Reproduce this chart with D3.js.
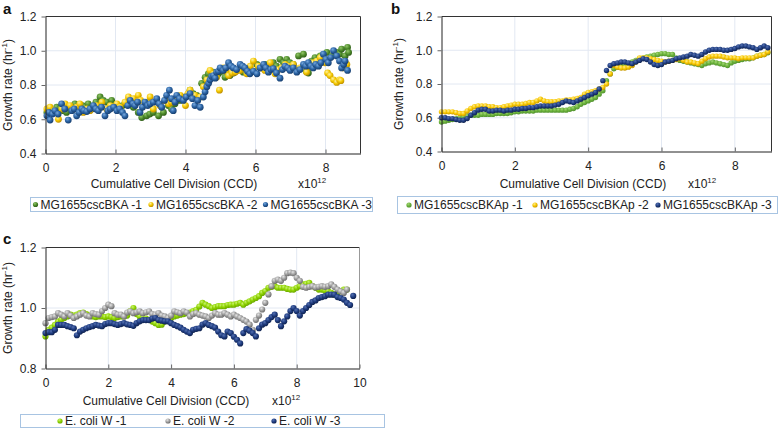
<!DOCTYPE html>
<html>
<head>
<meta charset="utf-8">
<script src="https://cdn.jsdelivr.net/npm/d3@7"></script>
<style>
  body { margin: 0; background: #fff; }
  svg { display: block; font-family: "Liberation Sans", Arial, sans-serif; }
</style>
</head>
<body>
<svg id="chart" width="780" height="428"></svg>
<script>
// ---- panel a : MG1655cscBKA ----
var ccdA1 = [0.04,0.13,0.23,0.32,0.42,0.51,0.60,0.72,0.84,0.99,1.06,1.13,1.22,1.32,1.44,1.56,1.65,1.75,1.89,1.98,
  2.08,2.20,2.32,2.42,2.51,2.65,2.75,2.89,2.98,3.08,3.23,3.37,3.51,3.60,3.70,3.84,3.99,4.13,4.22,4.32,
  4.46,4.56,4.65,4.72,4.80,4.94,5.04,5.13,5.27,5.37,5.46,5.56,5.65,5.75,5.84,5.94,6.04,6.15,6.27,6.39,
  6.51,6.60,6.70,6.80,6.89,6.98,7.08,7.23,7.37,7.45,7.51,7.60,7.70,7.85,7.95,8.04,8.18,8.32,8.40,8.46,
  8.56,8.63,8.66];
var rateA1 = [0.64,0.66,0.65,0.67,0.66,0.65,0.64,0.67,0.69,0.67,0.68,0.67,0.69,0.66,0.70,0.73,0.71,0.70,0.71,0.68,
  0.66,0.68,0.70,0.69,0.67,0.64,0.61,0.62,0.63,0.64,0.62,0.64,0.68,0.66,0.69,0.71,0.73,0.77,0.75,0.74,
  0.81,0.845,0.865,0.85,0.875,0.865,0.88,0.845,0.855,0.87,0.885,0.89,0.875,0.89,0.90,0.88,0.92,0.90,0.92,0.91,
  0.93,0.91,0.95,0.93,0.95,0.93,0.92,0.97,0.98,0.88,0.87,0.94,0.96,0.97,0.95,0.99,0.97,0.99,0.98,1.01,
  0.97,1.02,0.99];

var ccdA2 = [0.04,0.13,0.25,0.37,0.47,0.56,0.70,0.80,0.89,0.98,1.08,1.18,1.27,1.36,1.46,1.61,1.75,1.85,1.94,2.04,
  2.13,2.27,2.37,2.45,2.51,2.65,2.72,2.80,2.90,2.99,3.08,3.18,3.27,3.42,3.52,3.60,3.75,3.85,4.00,4.07,
  4.13,4.27,4.42,4.51,4.61,4.70,4.80,4.89,4.97,5.08,5.16,5.23,5.33,5.42,5.56,5.66,5.75,5.85,5.94,6.08,
  6.18,6.27,6.42,6.56,6.65,6.75,6.85,6.94,7.08,7.18,7.27,7.46,7.55,7.65,7.75,7.85,7.99,8.06,8.13,8.23,
  8.32,8.40,8.44,8.51,8.61];
var rateA2 = [0.66,0.67,0.65,0.60,0.66,0.69,0.68,0.66,0.67,0.69,0.64,0.66,0.65,0.67,0.68,0.70,0.66,0.68,0.67,0.69,
  0.67,0.70,0.73,0.71,0.72,0.74,0.71,0.69,0.70,0.73,0.66,0.70,0.68,0.71,0.69,0.70,0.72,0.74,0.68,0.75,
  0.77,0.74,0.73,0.79,0.83,0.885,0.865,0.845,0.77,0.90,0.88,0.855,0.87,0.875,0.885,0.90,0.865,0.91,0.94,0.91,
  0.90,0.885,0.93,0.865,0.89,0.90,0.92,0.91,0.92,0.89,0.90,0.875,0.91,0.93,0.94,0.96,0.93,0.87,0.855,0.83,
  0.815,0.83,0.825,0.90,0.92];

var ccdA3 = [0.04,0.10,0.13,0.20,0.27,0.36,0.46,0.55,0.65,0.75,0.82,0.89,0.96,1.04,1.10,1.18,1.27,1.37,1.44,1.51,
  1.60,1.70,1.78,1.85,1.95,2.04,2.12,2.20,2.27,2.35,2.42,2.50,2.56,2.63,2.70,2.77,2.84,2.92,2.99,3.08,
  3.18,3.25,3.32,3.40,3.46,3.54,3.60,3.65,3.70,3.75,3.83,3.94,4.02,4.13,4.20,4.27,4.35,4.42,4.51,4.56,
  4.61,4.66,4.70,4.75,4.80,4.85,4.89,4.94,4.99,5.08,5.15,5.23,5.30,5.37,5.46,5.56,5.63,5.70,5.77,5.84,
  5.94,6.04,6.13,6.23,6.30,6.37,6.44,6.51,6.60,6.70,6.77,6.84,6.92,6.99,7.08,7.18,7.27,7.37,7.44,7.51,
  7.58,7.65,7.72,7.80,7.87,7.94,8.01,8.08,8.15,8.23,8.32,8.40,8.46,8.52,8.56,8.63];
var rateA3 = [0.62,0.64,0.595,0.63,0.65,0.63,0.69,0.66,0.595,0.65,0.66,0.62,0.64,0.66,0.65,0.645,0.66,0.68,0.66,0.65,
  0.67,0.62,0.65,0.66,0.67,0.65,0.66,0.64,0.62,0.68,0.71,0.69,0.68,0.70,0.64,0.67,0.70,0.68,0.69,0.70,
  0.72,0.69,0.67,0.71,0.74,0.77,0.72,0.65,0.70,0.74,0.72,0.71,0.73,0.75,0.72,0.68,0.71,0.67,0.73,0.76,
  0.79,0.81,0.83,0.85,0.855,0.84,0.875,0.88,0.90,0.885,0.90,0.93,0.91,0.90,0.89,0.92,0.91,0.90,0.88,0.865,
  0.88,0.865,0.90,0.92,0.90,0.875,0.89,0.895,0.87,0.84,0.89,0.91,0.90,0.885,0.90,0.875,0.89,0.92,0.91,0.93,
  0.91,0.90,0.92,0.91,0.93,0.98,0.95,0.93,0.96,1.00,0.97,0.94,0.90,0.92,0.94,0.885];

// ---- panel b : MG1655cscBKAp ----
var ccdB = [0.0,0.1,0.2,0.3,0.4,0.5,0.6,0.7,0.8,0.9,1.0,1.1,1.2,1.3,1.4,1.5,1.6,1.7,1.8,1.9,
  2.0,2.1,2.2,2.3,2.4,2.5,2.6,2.7,2.8,2.9,3.0,3.1,3.2,3.3,3.4,3.5,3.6,3.7,3.8,3.9,
  4.0,4.1,4.2,4.3,4.4,4.5,4.6,4.7,4.8,4.9,5.0,5.1,5.2,5.3,5.4,5.5,5.6,5.7,5.8,5.9,
  6.0,6.1,6.2,6.3,6.4,6.5,6.6,6.7,6.8,6.9,7.0,7.1,7.2,7.3,7.4,7.5,7.6,7.7,7.8,7.9,
  8.0,8.1,8.2,8.3,8.4,8.5,8.6,8.7,8.8,8.9];
var rateB1 = [0.575,0.58,0.585,0.59,0.595,0.60,0.605,0.61,0.615,0.615,0.615,0.62,0.62,0.62,0.62,0.625,0.625,0.625,0.625,0.63,
  0.635,0.635,0.64,0.64,0.64,0.64,0.645,0.645,0.645,0.645,0.645,0.645,0.645,0.645,0.645,0.65,0.655,0.665,0.68,0.69,
  0.70,0.71,0.72,0.74,0.76,0.82,0.86,0.89,0.90,0.905,0.91,0.92,0.93,0.94,0.95,0.955,0.96,0.965,0.97,0.975,
  0.98,0.98,0.975,0.975,0.955,0.94,0.935,0.93,0.925,0.92,0.915,0.91,0.92,0.925,0.93,0.925,0.92,0.915,0.91,0.925,
  0.935,0.94,0.945,0.95,0.95,0.955,0.965,0.97,0.975,0.985];
var rateB2 = [0.635,0.635,0.635,0.635,0.63,0.625,0.625,0.64,0.655,0.665,0.67,0.67,0.67,0.665,0.665,0.66,0.66,0.665,0.67,0.675,
  0.68,0.68,0.68,0.685,0.69,0.69,0.70,0.71,0.70,0.695,0.695,0.695,0.70,0.70,0.705,0.705,0.71,0.715,0.72,0.74,
  0.75,0.755,0.76,0.77,0.78,0.80,0.86,0.91,0.90,0.895,0.895,0.90,0.91,0.93,0.955,0.955,0.955,0.95,0.945,0.94,
  0.935,0.93,0.935,0.94,0.945,0.95,0.94,0.93,0.93,0.925,0.92,0.935,0.95,0.96,0.965,0.965,0.965,0.96,0.955,0.955,
  0.955,0.95,0.955,0.955,0.955,0.955,0.965,0.97,0.975,0.99];
var rateB3 = [0.60,0.60,0.595,0.595,0.59,0.585,0.585,0.595,0.615,0.63,0.645,0.65,0.65,0.64,0.64,0.645,0.645,0.64,0.645,0.645,
  0.65,0.65,0.655,0.655,0.66,0.66,0.665,0.67,0.67,0.67,0.67,0.675,0.68,0.69,0.70,0.695,0.69,0.70,0.71,0.72,
  0.73,0.74,0.75,0.77,0.82,0.88,0.91,0.92,0.925,0.93,0.93,0.925,0.92,0.93,0.94,0.95,0.945,0.93,0.915,0.91,
  0.915,0.93,0.935,0.94,0.95,0.955,0.96,0.965,0.975,0.97,0.965,0.975,0.99,1.0,1.005,1.005,1.005,1.0,1.0,1.005,
  1.01,1.02,1.025,1.025,1.02,1.015,1.005,1.015,1.025,1.015];

// ---- panel c : E. coli W ----
var ccdC = [0.0,0.1,0.2,0.3,0.4,0.5,0.6,0.7,0.8,0.9,1.0,1.1,1.2,1.3,1.4,1.5,1.6,1.7,1.8,1.9,
  2.0,2.1,2.2,2.3,2.4,2.5,2.6,2.7,2.8,2.9,3.0,3.1,3.2,3.3,3.4,3.5,3.6,3.7,3.8,3.9,
  4.0,4.1,4.2,4.3,4.4,4.5,4.6,4.7,4.8,4.9,5.0,5.1,5.2,5.3,5.4,5.5,5.6,5.7,5.8,5.9,
  6.0,6.1,6.2,6.3,6.4,6.5,6.6,6.7,6.8,6.9,7.0,7.1,7.2,7.3,7.4,7.5,7.6,7.7,7.8,7.9,
  8.0,8.1,8.2,8.3,8.4,8.5,8.6,8.7,8.8,8.9,9.0,9.1,9.2,9.3,9.4,9.5,9.6,9.7,9.8];
var rateC1 = [0.906,0.928,0.935,0.944,0.955,0.961,0.967,0.972,0.978,0.975,0.978,0.983,0.985,0.98,0.975,0.972,0.97,0.972,0.972,0.97,
  0.972,0.97,0.967,0.97,0.972,0.972,0.975,0.99,1.0,0.98,0.972,0.967,0.965,0.961,0.955,0.95,0.944,0.945,0.955,0.961,
  0.967,0.972,0.975,0.978,0.98,0.983,0.985,0.99,0.994,1.005,1.017,1.011,1.006,1.0,1.003,1.006,1.006,1.006,1.01,1.011,
  1.011,1.014,1.017,1.011,1.017,1.022,1.028,1.033,1.039,1.05,1.056,1.067,1.07,1.072,1.067,1.067,1.067,1.063,1.061,1.061,
  1.067,1.072,1.078,1.08,1.083,1.072,1.067,1.061,1.061,1.058,1.056,1.05,1.044,1.05,1.056,1.061,1.061];
var rateC2 = [0.95,0.967,0.97,0.972,0.983,0.978,0.972,0.983,0.975,0.967,0.972,0.978,0.983,0.975,0.972,0.983,0.98,0.978,0.99,1.0,
  1.011,1.006,0.983,0.978,0.978,0.972,0.985,0.989,0.983,0.986,0.989,0.983,0.986,0.989,0.98,0.978,0.983,0.975,0.972,0.967,
  0.975,0.989,0.986,0.983,0.989,0.985,0.972,0.98,0.983,0.978,0.975,0.972,0.967,0.975,0.983,0.978,0.978,0.983,0.978,0.972,
  0.978,0.972,0.967,0.961,0.955,0.945,0.928,0.961,0.975,0.995,1.017,1.045,1.072,1.09,1.094,1.09,1.1,1.115,1.117,1.115,
  1.1,1.09,1.07,1.067,1.07,1.072,1.068,1.07,1.072,1.07,1.072,1.078,1.07,1.061,1.055,1.05,1.061];
var rateC3 = [0.917,0.92,0.92,0.928,0.944,0.944,0.944,0.94,0.937,0.933,0.91,0.922,0.928,0.933,0.937,0.94,0.944,0.942,0.94,0.947,
  0.95,0.95,0.947,0.944,0.947,0.95,0.946,0.944,0.941,0.95,0.956,0.96,0.96,0.96,0.965,0.967,0.96,0.958,0.956,0.956,
  0.95,0.944,0.94,0.935,0.928,0.922,0.917,0.928,0.931,0.933,0.945,0.95,0.944,0.94,0.935,0.922,0.91,0.906,0.922,0.917,
  0.905,0.895,0.883,0.917,0.93,0.925,0.917,0.906,0.933,0.945,0.95,0.96,0.97,0.978,0.96,0.94,0.956,0.972,0.99,1.0,
  0.99,0.975,0.99,1.0,1.01,1.02,1.025,1.033,1.036,1.039,1.044,1.044,1.044,1.036,1.033,1.028,1.017,1.01,1.04];

var labelsA = ["MG1655cscBKA -1", "MG1655cscBKA -2", "MG1655cscBKA -3"];
var labelsB = ["MG1655cscBKAp -1", "MG1655cscBKAp -2", "MG1655cscBKAp -3"];
var labelsC = ["E. coli W -1", "E. coli W -2", "E. coli W -3"];
var ticksX9 = [0, 2, 4, 6, 8];
var ticksX10 = [0, 2, 4, 6, 8, 10];
var ticksY1 = [0.4, 0.6, 0.8, 1.0, 1.2];
var ticksY2 = [0.8, 1.0, 1.2];

var svg = d3.select("#chart");
var defs = svg.append("defs");

// shaded "ball" markers like the spreadsheet original
function ball(id, light, base, dark) {
  var g = defs.append("radialGradient").attr("id", id)
    .attr("cx", "38%").attr("cy", "32%").attr("r", "68%");
  g.append("stop").attr("offset", "0%").attr("stop-color", light);
  g.append("stop").attr("offset", "55%").attr("stop-color", base);
  g.append("stop").attr("offset", "100%").attr("stop-color", dark);
}
ball("ga1", "#93c66a", "#4f8c2c", "#2f5e18");
ball("ga2", "#fff1a0", "#f4c800", "#c09000");
ball("ga3", "#76a8de", "#2b63a3", "#173f70");
ball("gb1", "#a3d476", "#6ab23a", "#529230");
ball("gb2", "#ffec8c", "#f8c700", "#c99a00");
ball("gb3", "#5470b0", "#213f82", "#10234f");
ball("gc1", "#c8f270", "#8fd400", "#6aa800");
ball("gc2", "#e4e4e4", "#a0a0a0", "#6c6c6c");
ball("gc3", "#5470b0", "#1f3c80", "#0f224f");

function drawPanel(p) {
  var x = d3.scaleLinear().domain(p.xDomain).range([p.left, p.right]);
  var y = d3.scaleLinear().domain(p.yDomain).range([p.bottom, p.top]);
  var g = svg.append("g");

  // gridlines
  g.append("g").selectAll("line")
    .data(p.xTicks.filter(function(d){ return d > p.xDomain[0] && d < p.xDomain[1]; }))
    .join("line")
    .attr("x1", function(d){ return x(d); }).attr("x2", function(d){ return x(d); })
    .attr("y1", p.top).attr("y2", p.bottom)
    .attr("stroke", "#e2e8f2");
  g.append("g").selectAll("line")
    .data(p.yTicks.filter(function(d){ return d > p.yDomain[0] && d < p.yDomain[1]; }))
    .join("line")
    .attr("y1", function(d){ return y(d); }).attr("y2", function(d){ return y(d); })
    .attr("x1", p.left).attr("x2", p.right)
    .attr("stroke", "#e2e8f2");

  // series
  p.series.forEach(function(s){
    g.append("g").selectAll("circle")
      .data(d3.zip(s.x, s.y))
      .join("circle")
      .attr("cx", function(d){ return x(d[0]); })
      .attr("cy", function(d){ return y(d[1]); })
      .attr("r", p.r)
      .attr("fill", "url(#" + s.grad + ")");
  });

  // frame top/right
  g.append("line").attr("x1", p.left).attr("x2", p.right).attr("y1", p.top).attr("y2", p.top)
    .attr("stroke", "#333");
  g.append("line").attr("x1", p.right).attr("x2", p.right).attr("y1", p.top).attr("y2", p.bottom)
    .attr("stroke", p.rightColor || "#333");

  var xAxis = g.append("g")
    .attr("transform", "translate(0," + p.bottom + ")")
    .call(d3.axisBottom(x).tickValues(p.xTicks).tickFormat(d3.format("d"))
      .tickSizeInner(-4).tickSizeOuter(0).tickPadding(10));
  var yAxis = g.append("g")
    .attr("transform", "translate(" + p.left + ",0)")
    .call(d3.axisLeft(y).tickValues(p.yTicks).tickFormat(d3.format(".1f"))
      .tickSizeInner(4).tickSizeOuter(0).tickPadding(5));
  [xAxis, yAxis].forEach(function(a){
    a.select(".domain").attr("stroke", "#222");
    a.selectAll(".tick line").attr("stroke", "#666");
    a.selectAll("text").attr("font-size", 12).attr("fill", "#222")
      .attr("font-family", "Liberation Sans, Arial, sans-serif");
  });

  // titles
  var yt = g.append("text")
    .attr("transform", "translate(" + p.yTitleX + "," + ((p.top + p.bottom) / 2) + ") rotate(-90)")
    .attr("text-anchor", "middle").attr("font-size", 12).attr("fill", "#222");
  yt.append("tspan").text("Growth rate (hr");
  yt.append("tspan").attr("font-size", 8).attr("dy", -5).text("-1");
  yt.append("tspan").attr("dy", 5).text(")");

  g.append("text").attr("x", p.xTitleX).attr("y", p.xTitleY)
    .attr("text-anchor", "middle").attr("font-size", 12).attr("fill", "#222")
    .text("Cumulative Cell Division (CCD)");
  var sc = g.append("text").attr("x", p.sciX).attr("y", p.xTitleY)
    .attr("font-size", 12).attr("fill", "#222");
  sc.append("tspan").text("x10");
  sc.append("tspan").attr("font-size", 8).attr("dy", -5).text("12");

  g.append("text").attr("x", p.tagX).attr("y", p.tagY)
    .attr("font-size", 15).attr("font-weight", "bold").attr("fill", "#111")
    .text(p.tag);

  // legend
  var lg = g.append("g");
  lg.append("rect").attr("x", p.legend.x).attr("y", p.legend.y)
    .attr("width", p.legend.w).attr("height", p.legend.h)
    .attr("fill", "#fff").attr("stroke", "#a8c4e2");
  p.series.forEach(function(s, i){
    var cx = p.legend.items[i];
    var cy = p.legend.y + p.legend.h / 2;
    lg.append("circle").attr("cx", cx).attr("cy", cy).attr("r", 2.6)
      .attr("fill", "url(#" + s.grad + ")");
    lg.append("text").attr("x", cx + 5).attr("y", cy + 4.3)
      .attr("font-size", 12).attr("fill", "#222").text(s.label);
  });
}

drawPanel({
  tag: "a", tagX: 3, tagY: 14,
  left: 45.5, right: 360.5, top: 16.5, bottom: 153.5,
  xDomain: [0, 9], yDomain: [0.4, 1.2], xTicks: ticksX9, yTicks: ticksY1,
  r: 3.4, yTitleX: 12, xTitleX: 174, xTitleY: 188, sciX: 298,
  legend: { x: 30.5, y: 197.5, w: 342, h: 14, items: [35.5, 151, 265.5] },
  series: [
    { x: ccdA1, y: rateA1, grad: "ga1", label: labelsA[0] },
    { x: ccdA2, y: rateA2, grad: "ga2", label: labelsA[1] },
    { x: ccdA3, y: rateA3, grad: "ga3", label: labelsA[2] }
  ]
});

drawPanel({
  tag: "b", tagX: 391, tagY: 14,
  left: 441.5, right: 771.5, top: 16.5, bottom: 151.5,
  xDomain: [0, 9], yDomain: [0.4, 1.2], xTicks: ticksX9, yTicks: ticksY1,
  r: 2.7, yTitleX: 403, xTitleX: 583, xTitleY: 188, sciX: 688,
  legend: { x: 397.5, y: 196.5, w: 380, h: 17, items: [409, 535, 658] },
  series: [
    { x: ccdB, y: rateB1, grad: "gb1", label: labelsB[0] },
    { x: ccdB, y: rateB2, grad: "gb2", label: labelsB[1] },
    { x: ccdB, y: rateB3, grad: "gb3", label: labelsB[2] }
  ]
});

drawPanel({
  tag: "c", tagX: 3, tagY: 244,
  left: 45.5, right: 359.5, top: 247.5, bottom: 368.5,
  xDomain: [0, 10], yDomain: [0.8, 1.2], xTicks: ticksX10, yTicks: ticksY2,
  r: 3.1, yTitleX: 12, xTitleX: 166, xTitleY: 405, sciX: 272, rightColor: "#999",
  legend: { x: 20.5, y: 414.5, w: 364, h: 13, items: [60, 168, 274] },
  series: [
    { x: ccdC.slice(0, rateC1.length), y: rateC1, grad: "gc1", label: labelsC[0] },
    { x: ccdC.slice(0, rateC2.length), y: rateC2, grad: "gc2", label: labelsC[1] },
    { x: ccdC, y: rateC3, grad: "gc3", label: labelsC[2] }
  ]
});
</script>
</body>
</html>
